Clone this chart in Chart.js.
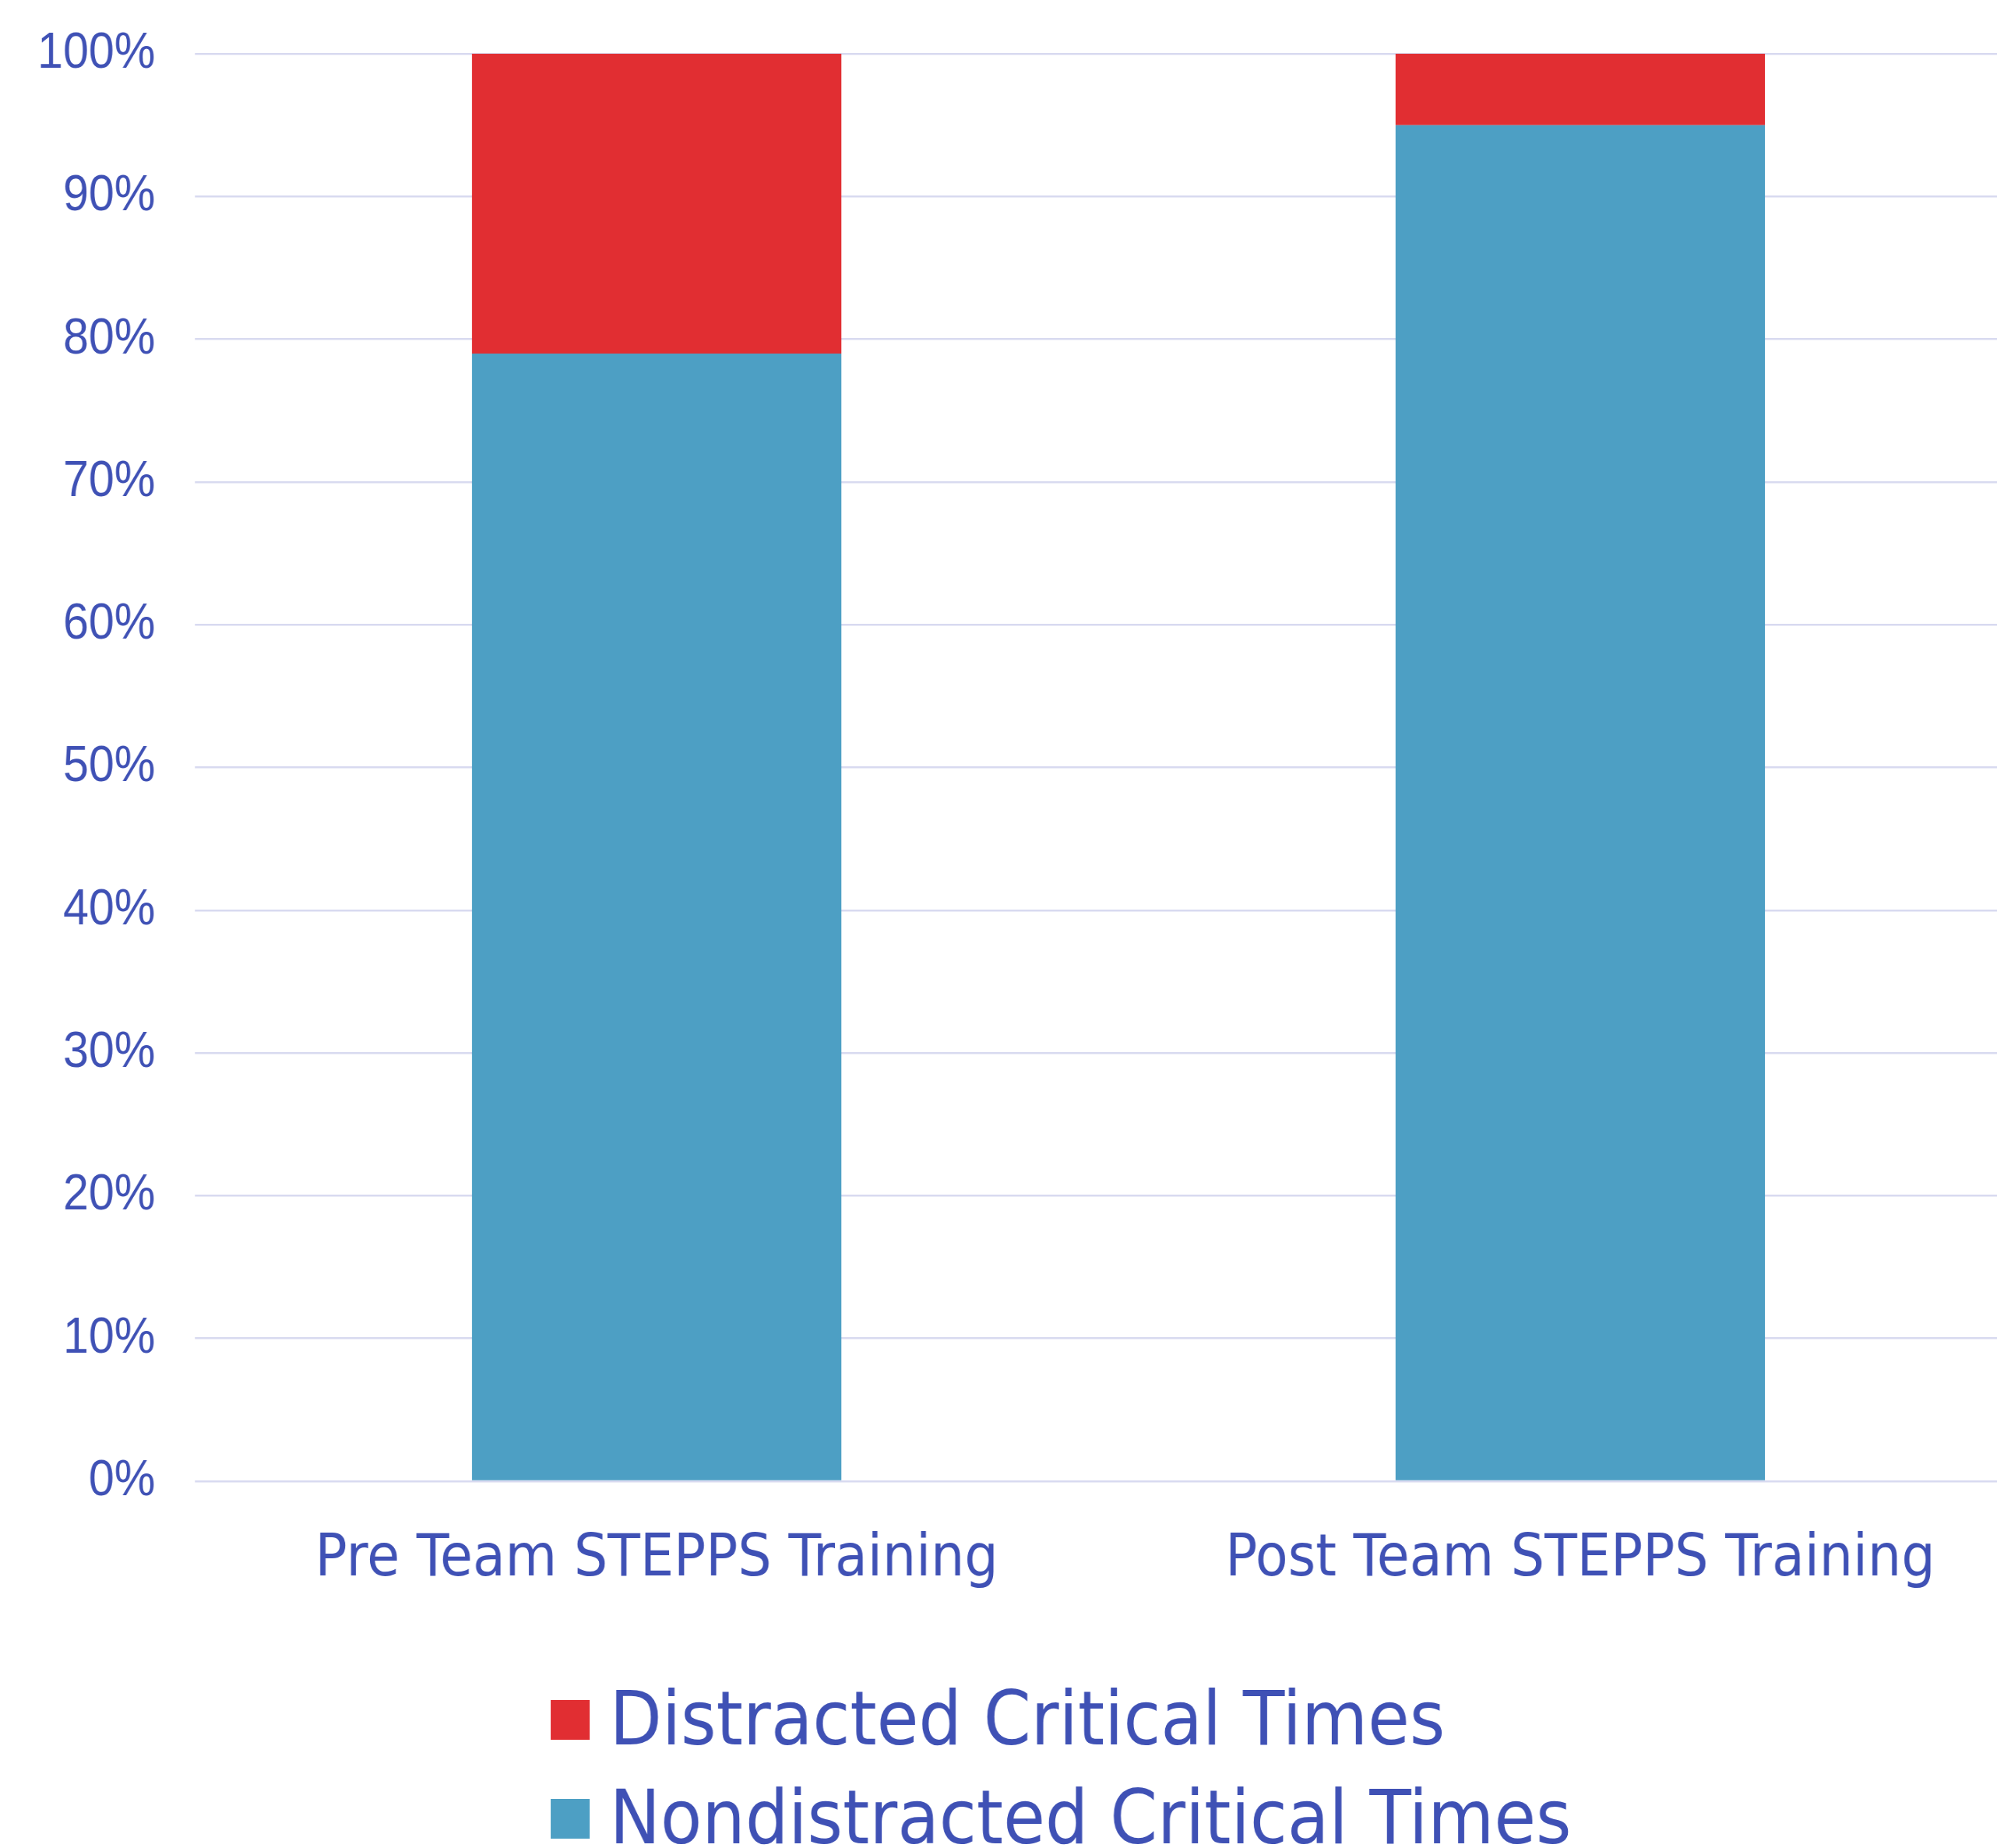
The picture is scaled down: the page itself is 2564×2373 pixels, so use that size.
<!DOCTYPE html>
<html>
<head>
<meta charset="utf-8">
<script src="https://cdn.jsdelivr.net/npm/chart.js@4.4.1/dist/chart.umd.min.js"></script>
<style>
html, body { margin: 0; padding: 0; background: #fff; overflow: hidden; }
#wrap { width: 2881px; height: 2373px; transform: scaleX(0.91); transform-origin: 0 0; }
</style>
</head>
<body>
<div id="wrap"><canvas id="chart" width="2881" height="2373"></canvas></div>
<script>
const categories = ["Pre Team STEPPS Training", "Post Team STEPPS Training"];
const nondistracted = [79, 95];
const distracted = [21, 5];
const series_labels = ["Nondistracted Critical Times", "Distracted Critical Times"];
const y_ticks = [0, 10, 20, 30, 40, 50, 60, 70, 80, 90, 100];

const text_color = "#3F51B5";

// legend stacked in two rows, drawn by hand (built-in one puts both on one line)
const stackedLegend = {
    id: "stackedLegend",
    afterDraw(chart) {
        const ctx = chart.ctx;
        const sets = chart.data.datasets.slice().reverse();
        ctx.save();
        ctx.font = "96px 'DejaVu Sans'";
        ctx.textBaseline = "alphabetic";
        ctx.textAlign = "left";
        sets.forEach((ds, i) => {
            const base = 2240 + i * 127;
            ctx.fillStyle = ds.backgroundColor;
            ctx.fillRect(777, base - 57, 55, 51);
            ctx.fillStyle = text_color;
            ctx.fillText(ds.label, 860, base);
        });
        ctx.restore();
    }
};

const ctx = document.getElementById("chart").getContext("2d");

const chart = new Chart(ctx, {
    type: "bar",
    data: {
        labels: categories,
        datasets: [
            {
                label: series_labels[0],
                data: nondistracted,
                backgroundColor: "#4D9FC4",
                categoryPercentage: 1.0,
                barPercentage: 0.4
            },
            {
                label: series_labels[1],
                data: distracted,
                backgroundColor: "#E12E32",
                categoryPercentage: 1.0,
                barPercentage: 0.4
            }
        ]
    },
    options: {
        responsive: false,
        animation: false,
        devicePixelRatio: 1,
        layout: {
            padding: { top: 69, left: 0, right: 0, bottom: 0 }
        },
        plugins: {
            legend: { display: false },
            tooltip: { enabled: false }
        },
        scales: {
            x: {
                stacked: true,
                grid: { display: false },
                border: { display: false },
                ticks: {
                    color: text_color,
                    font: { family: "'DejaVu Sans'", size: 75 },
                    padding: 49,
                    maxRotation: 0
                },
                afterFit: function(scale) {
                    scale.height = 471;
                }
            },
            y: {
                stacked: true,
                min: 0,
                max: 100,
                afterBuildTicks: function(scale) {
                    scale.ticks = y_ticks.map(v => ({ value: v }));
                },
                grid: {
                    color: "#D8DAF0",
                    lineWidth: 2.5,
                    drawTicks: false
                },
                border: { display: false },
                ticks: {
                    color: text_color,
                    // small lineHeight so the label half-height doesn't push the plot down
                    font: { family: "'Liberation Sans'", size: 65, lineHeight: 0.4 },
                    padding: 56,
                    callback: function(value) {
                        return value + "%";
                    }
                },
                afterFit: function(scale) {
                    scale.width = 275;
                }
            }
        }
    },
    plugins: [stackedLegend]
});
</script>
</body>
</html>
